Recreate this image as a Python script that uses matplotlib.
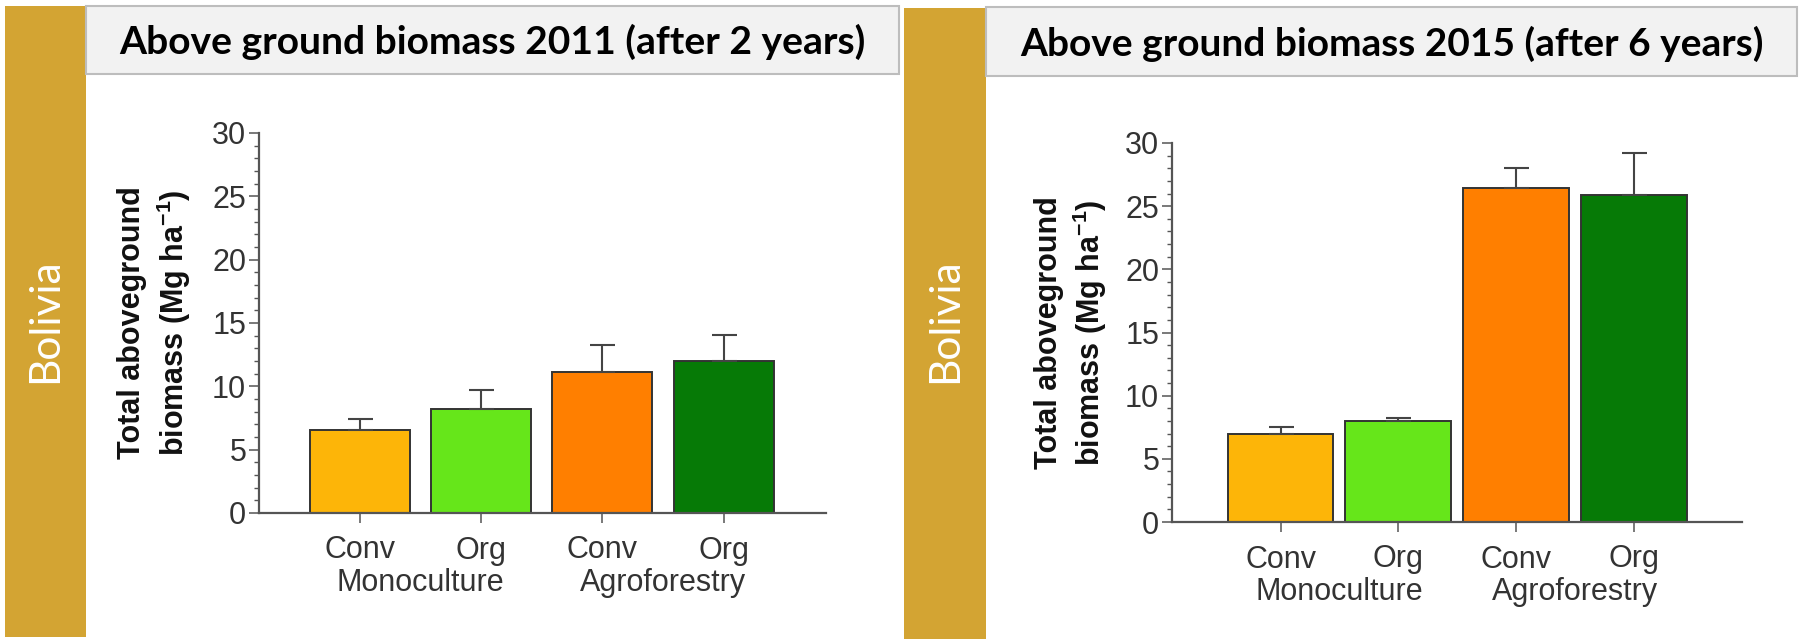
import matplotlib
matplotlib.use('Agg')
import matplotlib.pyplot as plt
from matplotlib.patches import Rectangle
from matplotlib.ticker import MultipleLocator

W, H = 1807, 642

# ---------------- data ----------------
categories = ['Conv', 'Org', 'Conv', 'Org']
groups = ['Monoculture', 'Agroforestry']
group_pos = [0.5, 2.5]
colors = ['#FDB508', '#66E61A', '#FF7F00', '#067A06']
titles = ['Above ground biomass 2011 (after 2 years)',
          'Above ground biomass 2015 (after 6 years)']
country = 'Bolivia'
means_2011 = [6.55, 8.2, 11.13, 12.0]
err_2011 = [0.85, 1.5, 2.13, 2.05]
means_2015 = [6.97, 8.0, 26.44, 25.9]
err_2015 = [0.55, 0.23, 1.6, 3.3]
yticks = [0, 5, 10, 15, 20, 25, 30]
ylabel = 'Total aboveground\nbiomass (Mg ha$^{\\mathbf{-1}}$)'

plt.rcParams['mathtext.fontset'] = 'custom'
plt.rcParams['mathtext.rm'] = 'Liberation Sans'
plt.rcParams['mathtext.bf'] = 'Liberation Sans:bold'

fig = plt.figure(figsize=(W / 100, H / 100), dpi=100)

def frac(x0, y0, x1, y1):
    return [x0 / W, 1 - y1 / H, (x1 - x0) / W, (y1 - y0) / H]

panels = [
    dict(gold=(5, 6, 86, 637), box=(86, 6, 899, 74), ax=(259, 133, 826, 513),
         xlim=(-0.833, 3.845), width=0.825, ylab_x=-0.183,
         means=means_2011, errs=err_2011, title=titles[0], title_w=745),
    dict(gold=(904, 8, 986, 639), box=(986, 7, 1797, 76), ax=(1172, 143, 1742, 522),
         xlim=(-0.922, 3.921), width=0.90, ylab_x=-0.176,
         means=means_2015, errs=err_2015, title=titles[1], title_w=743),
]

fit_texts = []
for p in panels:
    gx0, gy0, gx1, gy1 = p['gold']
    fig.patches.append(Rectangle((gx0 / W, 1 - gy1 / H), (gx1 - gx0) / W, (gy1 - gy0) / H,
                                 transform=fig.transFigure, facecolor='#D3A433',
                                 edgecolor='none', zorder=0))
    bx0, by0, bx1, by1 = p['box']
    fig.patches.append(Rectangle((bx0 / W, 1 - by1 / H), (bx1 - bx0) / W, (by1 - by0) / H,
                                 transform=fig.transFigure, facecolor='#F2F2F2',
                                 edgecolor='#BDBDBD', linewidth=1.5, zorder=0))
    t = fig.text((bx0 + bx1) / 2 / W, 1 - ((by0 + by1) / 2 + 2) / H, p['title'],
                 ha='center', va='center', fontsize=22, fontweight='bold',
                 family=['Lato', 'DejaVu Sans'], color='black')
    fit_texts.append((t, p['title_w'], 'w'))
    b = fig.text((gx0 + gx1) / 2 / W, 1 - 321 / H, country, rotation=90,
                 ha='center', va='center', fontsize=28, fontweight='normal',
                 family=['Lato', 'DejaVu Sans'], color='white')
    fit_texts.append((b, 125, 'h'))

    ax = fig.add_axes(frac(*p['ax']))
    ax.set_facecolor('none')
    x = list(range(len(categories)))
    ax.bar(x, p['means'], width=p['width'], color=colors, edgecolor='#333333',
           linewidth=1.4, zorder=2)
    ax.errorbar(x, p['means'], yerr=[[0] * len(x), p['errs']], fmt='none',
                ecolor='#444444', elinewidth=1.5, capsize=9, capthick=1.5, zorder=3)
    ax.set_xlim(*p['xlim'])
    ax.set_ylim(0, 30)
    ax.set_yticks(yticks)
    ax.yaxis.set_minor_locator(MultipleLocator(1))
    ax.set_xticks(x)
    ax.set_xticklabels(categories)
    for s in ['top', 'right']:
        ax.spines[s].set_visible(False)
    for s in ['left', 'bottom']:
        ax.spines[s].set_color('#555555')
        ax.spines[s].set_linewidth(1.6)
    ax.tick_params(axis='y', which='major', length=7.2, width=1.1, color='#555555',
                   pad=2, labelsize=22, labelcolor='#333333')
    ax.tick_params(axis='y', which='minor', length=3.6, width=1.0, color='#555555')
    ax.tick_params(axis='x', which='major', length=7.2, width=1.1, color='#555555',
                   pad=9, labelsize=22, labelcolor='#333333')
    for lab in ax.get_xticklabels() + ax.get_yticklabels():
        lab.set_family(['Liberation Sans', 'DejaVu Sans'])
    for gp, g in zip(group_pos, groups):
        ax.annotate(g, xy=(gp, 0), xycoords=('data', 'axes fraction'),
                    xytext=(0, -56.5), textcoords='offset points',
                    ha='center', va='baseline', fontsize=22, color='#333333',
                    family=['Liberation Sans', 'DejaVu Sans'], annotation_clip=False)
    ax.text(p['ylab_x'], 0.5, ylabel, transform=ax.transAxes, rotation=90,
            ha='center', va='center', multialignment='center', fontsize=22,
            fontweight='bold', family=['Liberation Sans', 'DejaVu Sans'],
            linespacing=1.25, color='#111111')

fig.canvas.draw()
r = fig.canvas.get_renderer()
for t, target, dim in fit_texts:
    bb = t.get_window_extent(r)
    size = bb.width if dim == 'w' else bb.height
    t.set_fontsize(t.get_fontsize() * target / size)

fig.savefig('out.png', dpi=100, facecolor='white')
